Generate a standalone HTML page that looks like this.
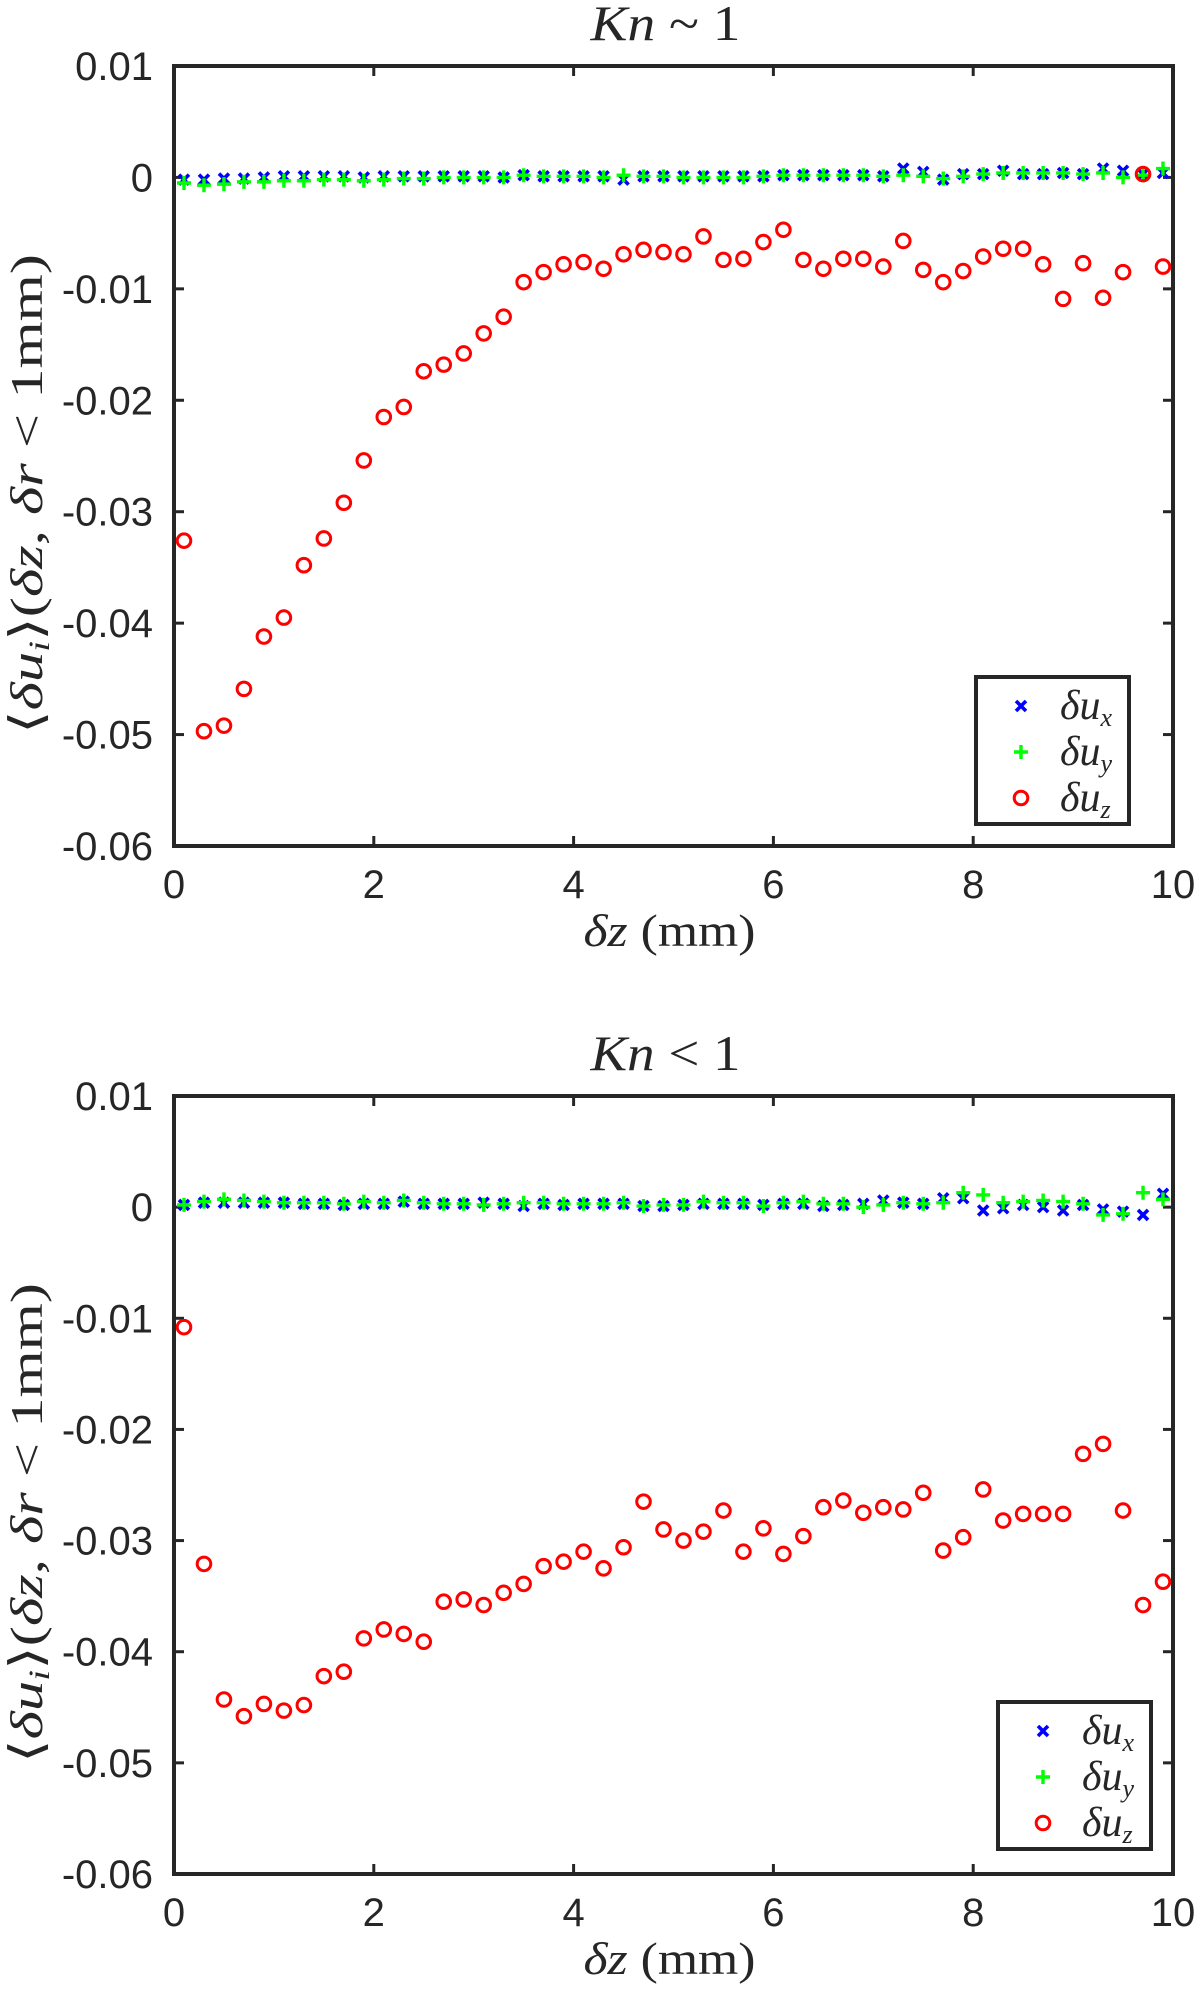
<!DOCTYPE html>
<html><head><meta charset="utf-8"><style>
html,body{margin:0;padding:0;background:#fff;}
svg{display:block;}
.tick{font-family:"Liberation Sans",sans-serif;font-size:40px;fill:#262626;}
.ser{font-family:"Liberation Serif","DejaVu Serif",serif;fill:#262626;}
</style></head><body>
<svg id="chart" width="1200" height="1993" viewBox="0 0 1200 1993" xmlns="http://www.w3.org/2000/svg"></svg>
<script>
const xValues=[0.1,0.3,0.5,0.7,0.9,1.1,1.3,1.5,1.7,1.9,2.1,2.3,2.5,2.7,2.9,3.1,3.3,3.5,3.7,3.9,4.1,4.3,4.5,4.7,4.9,5.1,5.3,5.5,5.7,5.9,6.1,6.3,6.5,6.7,6.9,7.1,7.3,7.5,7.7,7.9,8.1,8.3,8.5,8.7,8.9,9.1,9.3,9.5,9.7,9.9];
const xTicks=[0,2,4,6,8,10];
const yTicks=[0.01,0,-0.01,-0.02,-0.03,-0.04,-0.05,-0.06];
const yTickLabels=["0.01","0","-0.01","-0.02","-0.03","-0.04","-0.05","-0.06"];
const topUx=[-0.0002,-0.0002,-0.0001,-0.0001,0,0.0001,0.0001,0.0001,0.0001,0,0.0001,0.0001,0.0001,0.0001,0.0001,0.0001,0,0.0002,0.0001,0.0001,0.0001,0.0001,-0.0002,0.0001,0.0001,0.0001,0.0001,0.0001,0.0001,0.0001,0.0002,0.0002,0.0002,0.0002,0.0002,0.0001,0.0008,0.0005,-0.0002,0.0003,0.0003,0.0006,0.0003,0.0003,0.0004,0.0003,0.0008,0.0006,0.0003,0.0004];
const topUy=[-0.0005,-0.0007,-0.0006,-0.0004,-0.0004,-0.0003,-0.0003,-0.0002,-0.0002,-0.0003,-0.0002,-0.0001,-0.0001,0,0,0,0,0.0002,0.0001,0.0001,0.0001,0,0.0002,0.0001,0.0001,0,0,0,0,0.0001,0.0002,0.0002,0.0002,0.0002,0.0002,0.0001,0.0002,0.0001,-0.0001,0.0001,0.0003,0.0004,0.0004,0.0004,0.0004,0.0003,0.0004,0,0.0002,0.0008];
const topUz=[-0.0326,-0.0497,-0.0492,-0.0459,-0.0412,-0.0395,-0.0348,-0.0324,-0.0292,-0.0254,-0.0215,-0.0206,-0.0174,-0.0168,-0.0158,-0.014,-0.0125,-0.0094,-0.0085,-0.0078,-0.0076,-0.0082,-0.0069,-0.0065,-0.0067,-0.0069,-0.0053,-0.0074,-0.0073,-0.0058,-0.0047,-0.0074,-0.0082,-0.0073,-0.0073,-0.008,-0.0057,-0.0083,-0.0094,-0.0084,-0.0071,-0.0064,-0.0064,-0.0078,-0.0109,-0.0077,-0.0108,-0.0085,0.0003,-0.008];
const botUx=[0.0002,0.0004,0.0004,0.0004,0.0004,0.0004,0.0003,0.0003,0.0002,0.0003,0.0003,0.0005,0.0003,0.0003,0.0003,0.0004,0.0003,0.0001,0.0003,0.0002,0.0003,0.0003,0.0003,0.0001,0.0001,0.0002,0.0003,0.0003,0.0003,0.0002,0.0003,0.0003,0.0001,0.0002,0.0003,0.0006,0.0004,0.0003,0.0008,0.0008,-0.0003,-0.0001,0.0002,0,-0.0003,0.0002,-0.0002,-0.0004,-0.0007,0.0012];
const botUy=[0.0002,0.0005,0.0007,0.0006,0.0005,0.0004,0.0004,0.0004,0.0003,0.0005,0.0004,0.0006,0.0004,0.0003,0.0003,0.0002,0.0003,0.0004,0.0004,0.0003,0.0003,0.0003,0.0004,0.0001,0.0002,0.0002,0.0005,0.0004,0.0004,0.0001,0.0004,0.0005,0.0003,0.0003,0,0.0002,0.0004,0.0003,0.0004,0.0013,0.0011,0.0004,0.0005,0.0006,0.0005,0.0003,-0.0007,-0.0006,0.0013,0.0007];
const botUz=[-0.0108,-0.0321,-0.0443,-0.0458,-0.0447,-0.0453,-0.0448,-0.0422,-0.0418,-0.0388,-0.038,-0.0384,-0.0391,-0.0355,-0.0353,-0.0358,-0.0347,-0.0339,-0.0323,-0.0319,-0.031,-0.0325,-0.0306,-0.0265,-0.029,-0.03,-0.0292,-0.0273,-0.031,-0.0289,-0.0312,-0.0296,-0.027,-0.0264,-0.0275,-0.027,-0.0272,-0.0257,-0.0309,-0.0297,-0.0254,-0.0282,-0.0276,-0.0276,-0.0276,-0.0222,-0.0213,-0.0273,-0.0358,-0.0337];

const NS='http://www.w3.org/2000/svg';
const svg=document.getElementById('chart');
function mk(tag,attrs,parent,text){const e=document.createElementNS(NS,tag);for(const k in attrs)e.setAttribute(k,attrs[k]);if(text!==undefined)e.textContent=text;(parent||svg).appendChild(e);return e;}

function drawMarker(g,type,cx,cy){
  let el;
  if(type==='x'){
    el=mk('path',{d:`M${cx-5},${cy-5}L${cx+5},${cy+5}M${cx-5},${cy+5}L${cx+5},${cy-5}`,stroke:'#0000ff','stroke-width':3.6,fill:'none'},g);
  }else if(type==='+'){
    el=mk('path',{d:`M${cx-7},${cy}L${cx+7},${cy}M${cx},${cy-7}L${cx},${cy+7}`,stroke:'#00ff00','stroke-width':3.4,fill:'none'},g);
  }else{
    el=mk('circle',{cx:cx,cy:cy,r:6.8,stroke:'#ff0000','stroke-width':3,fill:'none'},g);
  }
  return el;
}

function panel(cfg){
  const L=174,R=1173,T=cfg.top,B=cfg.bottom;
  const xs=v=>L+(v-0)/(10-0)*(R-L);
  const ys=v=>T+(0.01-v)/(0.07)*(B-T);
  const g=mk('g',{},svg);
  
  
  const title=mk('text',{x:(L+R)/2-8,y:cfg.titleY,'text-anchor':'middle','font-size':50,class:'ser',textLength:150,lengthAdjust:'spacingAndGlyphs'},g);
  
  
  mk('tspan',{'font-style':'italic'},title,'Kn');
  mk('tspan',{},title,cfg.titleRest);
  const tg=mk('g',{},g);
  
  
  xTicks.forEach(t=>{
    const x=xs(t);
    mk('line',{x1:x,x2:x,y1:B,y2:B-10,stroke:'#262626','stroke-width':3},tg);
    mk('line',{x1:x,x2:x,y1:T,y2:T+10,stroke:'#262626','stroke-width':3},tg);
    const lb=mk('text',{x:x,y:B+52,'text-anchor':'middle',class:'tick'},g,String(t));
    
    
  });
  yTicks.forEach((t,i)=>{
    const y=ys(t);
    mk('line',{x1:L,x2:L+10,y1:y,y2:y,stroke:'#262626','stroke-width':3},tg);
    mk('line',{x1:R,x2:R-10,y1:y,y2:y,stroke:'#262626','stroke-width':3},tg);
    const lb=mk('text',{x:153,y:y+14,'text-anchor':'end',class:'tick'},g,yTickLabels[i]);
    
    
  });
  const xl=mk('text',{x:(L+R)/2-4,y:B+100,'text-anchor':'middle','font-size':46,class:'ser',textLength:172,lengthAdjust:'spacingAndGlyphs'},g);
  
  
  mk('tspan',{'font-style':'italic'},xl,'δz');
  mk('tspan',{},xl,' (mm)');
  const yl=mk('text',{x:0,y:0,'text-anchor':'middle','font-size':46,class:'ser',textLength:480,lengthAdjust:'spacingAndGlyphs',transform:`translate(42,${(T+B)/2+38}) rotate(-90)`},g);
  
  
  mk('tspan',{},yl,'⟨');
  mk('tspan',{'font-style':'italic'},yl,'δu');
  mk('tspan',{'font-style':'italic','font-size':30,dy:7},yl,'i');
  mk('tspan',{dy:-7},yl,'⟩(');
  mk('tspan',{'font-style':'italic'},yl,'δz');
  mk('tspan',{},yl,', ');
  mk('tspan',{'font-style':'italic'},yl,'δr');
  mk('tspan',{},yl,' < 1mm)');
  const series=[['x',cfg.ux,'series-dux'],['+',cfg.uy,'series-duy'],['o',cfg.uz,'series-duz']];
  series.forEach(s=>{
    const sg=mk('g',{},g);
    
    
    s[1].forEach((v,i)=>{
      const m=drawMarker(sg,s[0],xs(xValues[i]),ys(v));
      
      
    });
  });
  const box=mk('rect',{x:L,y:T,width:R-L,height:B-T,fill:'none',stroke:'#262626','stroke-width':4},g);
  
  
  const lg=mk('g',{},g);
  
  
  const lx=cfg.legX,ly=cfg.legY;
  mk('rect',{x:lx,y:ly,width:153,height:147,fill:'#fff',stroke:'#262626','stroke-width':4},lg);
  const labels=[['x','x'],['+','y'],['o','z']];
  labels.forEach((l,i)=>{
    const cy=ly+29+i*46;
    const e=mk('g',{},lg);
    
    
    drawMarker(e,l[0],lx+45,cy);
    const t=mk('text',{x:lx+84,y:cy+13,'font-size':42,class:'ser','font-style':'italic'},e);
    mk('tspan',{},t,'δu');
    mk('tspan',{'font-size':26,dy:7},t,l[1]);
  });
}
panel({name:'top-panel',top:66,bottom:846,titleY:40,titleRest:' ~ 1',ux:topUx,uy:topUy,uz:topUz,legX:976,legY:677});
panel({name:'bottom-panel',top:1096,bottom:1874,titleY:1070,titleRest:' < 1',ux:botUx,uy:botUy,uz:botUz,legX:998,legY:1702});
</script>
</body></html>
